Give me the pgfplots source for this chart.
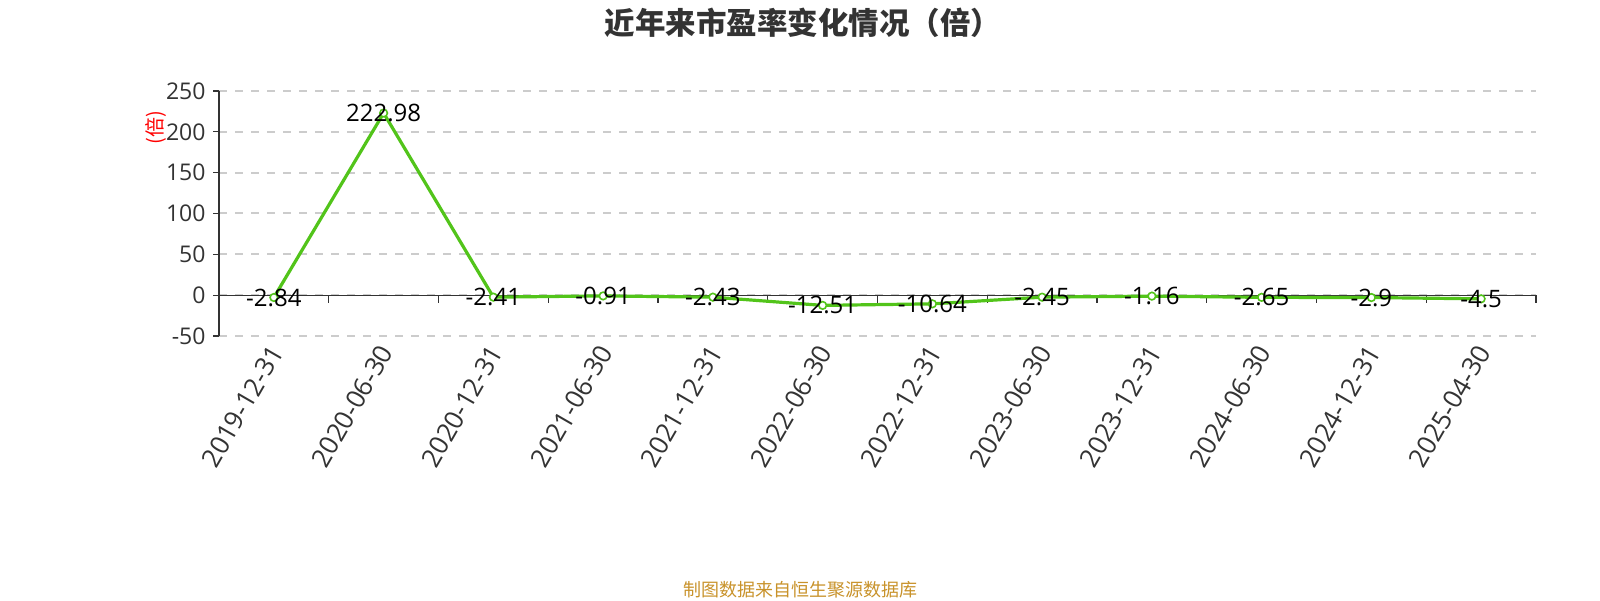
\documentclass[border=0pt]{standalone}
\usepackage{fontspec}
\setmainfont{Open Sans}
\newfontfamily\cjk{Noto Sans CJK SC}
\usepackage{pgfplots}
\pgfplotsset{compat=1.18}
\definecolor{lg}{HTML}{52C41A}
\definecolor{tc}{HTML}{333333}
\definecolor{footc}{HTML}{C8922A}
\definecolor{gridc}{HTML}{CCCCCC}
\begin{document}
\begin{tikzpicture}[x=1pt,y=1pt]
\useasboundingbox (0,0) rectangle (1600,600);
\node[font=\cjk\bfseries\fontsize{30.5}{34}\selectfont, text=tc] at (803,577) {近年来市盈率变化情况（倍）};
\node[font=\cjk\fontsize{18}{20}\selectfont, text=footc] at (800,10) {制图数据来自恒生聚源数据库};
\node[font=\cjk\fontsize{20}{22}\selectfont, text=red, rotate=90] at (156,472) {(倍)};
\begin{axis}[
  at={(219pt,264pt)}, anchor=south west, scale only axis,
  width=1317pt, height=245pt,
  xmin=-0.5, xmax=11.5, ymin=-50, ymax=250,
  axis y line*=left, axis x line*=bottom,
  x axis line style={draw=none},
  y axis line style={draw=tc, line width=1.2pt},
  ytick={-50,0,50,100,150,200,250},
  xtick={0,...,11},
  xticklabels={2019-12-31,2020-06-30,2020-12-31,2021-06-30,2021-12-31,2022-06-30,2022-12-31,2023-06-30,2023-12-31,2024-06-30,2024-12-31,2025-04-30},
  x tick label style={rotate=60, anchor=east, font=\fontsize{26}{26}\selectfont, text=tc, yshift=-5pt, xshift=0pt},
  y tick label style={font=\fontsize{23}{23}\selectfont, text=tc, xshift=-4pt},
  /pgf/number format/assume math mode=true,
  major x tick style={draw=none},
  major y tick style={draw=tc, line width=1.2pt},
  tick align=outside, major tick length=6pt,
  ymajorgrids, grid style={gridc, line width=2pt, dash pattern=on 8pt off 8pt},
  clip=false,
]
\draw[tc, line width=1.3pt] (axis cs:-0.5,0) -- (axis cs:11.5,0);
\pgfplotsinvokeforeach{-0.5,0.5,1.5,2.5,3.5,4.5,5.5,6.5,7.5,8.5,9.5,10.5,11.5}{
  \draw[tc, line width=1.3pt] (axis cs:#1,0) -- ([yshift=-8pt]axis cs:#1,0);
}
\addplot[lg, line width=3.2pt, mark=*, mark size=3.8pt, mark options={fill=white, draw=lg, line width=1.6pt},
  nodes near coords={\pgfmathprintnumber[assume math mode=true]{\pgfplotspointmeta}},
  every node near coord/.append style={anchor=center, font=\fontsize{24}{24}\selectfont, text=black}]
coordinates {(0,-2.84) (1,222.98) (2,-2.41) (3,-0.91) (4,-2.43) (5,-12.51) (6,-10.64) (7,-2.45) (8,-1.16) (9,-2.65) (10,-2.9) (11,-4.5)};
\end{axis}
\end{tikzpicture}
\end{document}
